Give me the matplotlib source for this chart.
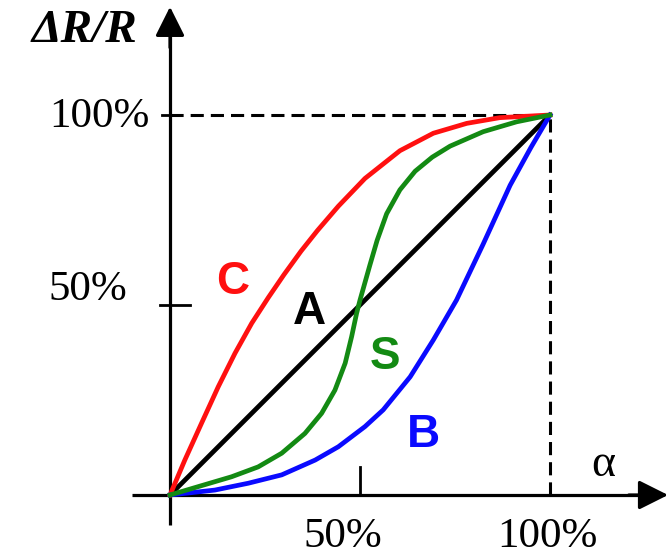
import matplotlib
matplotlib.use("Agg")
import matplotlib.pyplot as plt

# Relative resistance change (%) versus travel alpha (%) for four taper laws
alpha_A = [0, 100]
resp_A = [0, 100]

alpha_C = [0, 3.9, 8.3, 12.7, 17.1, 21.5, 25.9, 30.0, 34.5, 38.8, 44.3, 51.3,
           60.5, 69.3, 78.1, 86.8, 100]
resp_C = [0, 9.2, 18.9, 28.5, 37.3, 45.2, 52.0, 58.0, 64.2, 69.6, 76.0, 83.3,
          90.6, 95.2, 97.8, 99.3, 100]

alpha_B = [0, 11.8, 20.6, 29.4, 38.2, 44.3, 51.3, 56.1, 63.2, 69.3, 75.4,
           82.4, 89.5, 95.0, 100]
resp_B = [0, 1.3, 3.1, 5.3, 9.2, 12.7, 18.0, 22.4, 31.1, 40.8, 51.3,
          66.0, 81.5, 91.5, 100]

alpha_S = [0, 7.4, 16.2, 23.2, 29.4, 35.5, 39.9, 43.4, 46.1, 47.8, 49.1, 50.0,
           52.6, 54.5, 57.0, 60.5, 64.5, 69.0, 73.7, 82.4, 91.2, 100]
resp_S = [0, 2.2, 4.8, 7.4, 11.0, 16.2, 21.5, 27.6, 34.7, 41.7, 47.8, 51.3,
          60.5, 67.0, 74.0, 80.3, 85.2, 88.9, 91.8, 95.6, 98.2, 100]

x_tick_labels = ["50%", "100%"]
y_tick_labels = ["50%", "100%"]
curve_names = ["C", "A", "S", "B"]

RED = "#ff1010"
GREEN = "#138a13"
BLUE = "#0a0aff"
BLACK = "#000000"

fig = plt.figure(figsize=(6.71, 5.56), dpi=100)
ax = fig.add_axes([0, 0, 1, 1])
ax.set_xlim(-44.74, 131.84)
ax.set_ylim(-16.05, 130.26)
ax.axis("off")

serif = "Liberation Serif"
sans = "Liberation Sans"

# axes with arrow heads
ax.plot([-10, 128], [0, 0], color=BLACK, lw=2.3, solid_capstyle="butt")
ax.plot([0, 0], [-7.9, 124], color=BLACK, lw=2.3, solid_capstyle="butt")
ax.annotate("", xy=(131.8, 0), xytext=(120, 0),
            arrowprops=dict(arrowstyle="-|>,head_length=0.9,head_width=0.45",
                            color=BLACK, lw=2.3, mutation_scale=20))
ax.annotate("", xy=(0, 129.2), xytext=(0, 117),
            arrowprops=dict(arrowstyle="-|>,head_length=0.9,head_width=0.45",
                            color=BLACK, lw=2.3, mutation_scale=20))

# tick marks
ax.plot([-2.6, 5.3], [50, 50], color=BLACK, lw=2.0)
ax.plot([-2.1, 0], [100, 100], color=BLACK, lw=2.0)
ax.plot([50, 50], [0, 7.4], color=BLACK, lw=2.0)

# dashed guides to the full-scale point
ax.plot([0, 100], [100, 100], color=BLACK, lw=2.2, dashes=(4.3, 2.3))
ax.plot([100, 100], [0, 100], color=BLACK, lw=2.2, dashes=(4.3, 2.3))

# curves
ax.plot(alpha_A, resp_A, color=BLACK, lw=3.4, solid_capstyle="round")
ax.plot(alpha_C, resp_C, color=RED, lw=3.4, solid_joinstyle="round")
ax.plot(alpha_B, resp_B, color=BLUE, lw=3.4, solid_joinstyle="round")
ax.plot(alpha_S, resp_S, color=GREEN, lw=3.4, solid_joinstyle="round")

# curve labels
label_pos = {"C": (16.6, 56.1, RED), "A": (36.8, 48.2, BLACK),
             "S": (56.6, 36.3, GREEN), "B": (66.8, 15.8, BLUE)}
for name in curve_names:
    x, y, c = label_pos[name]
    ax.text(x, y, name, color=c, fontsize=33, fontweight="bold",
            family=sans, ha="center", va="center")

# tick labels
ax.text(-18.7, 99.5, y_tick_labels[1], fontsize=31, family=serif,
        ha="center", va="center")
ax.text(-21.6, 53.9, y_tick_labels[0], fontsize=31, family=serif,
        ha="center", va="center")
ax.text(45.5, -11.1, x_tick_labels[0], fontsize=31, family=serif,
        ha="center", va="center")
ax.text(99.2, -11.1, x_tick_labels[1], fontsize=31, family=serif,
        ha="center", va="center")

# axis titles
ax.text(113.9, 7.9, "α", fontsize=33, family=serif, ha="center", va="center")
ax.text(-22.6, 122.2, "ΔR/R", fontsize=34, family=serif, fontweight="bold",
        fontstyle="italic", ha="center", va="center")

fig.savefig("out.png", dpi=100)
